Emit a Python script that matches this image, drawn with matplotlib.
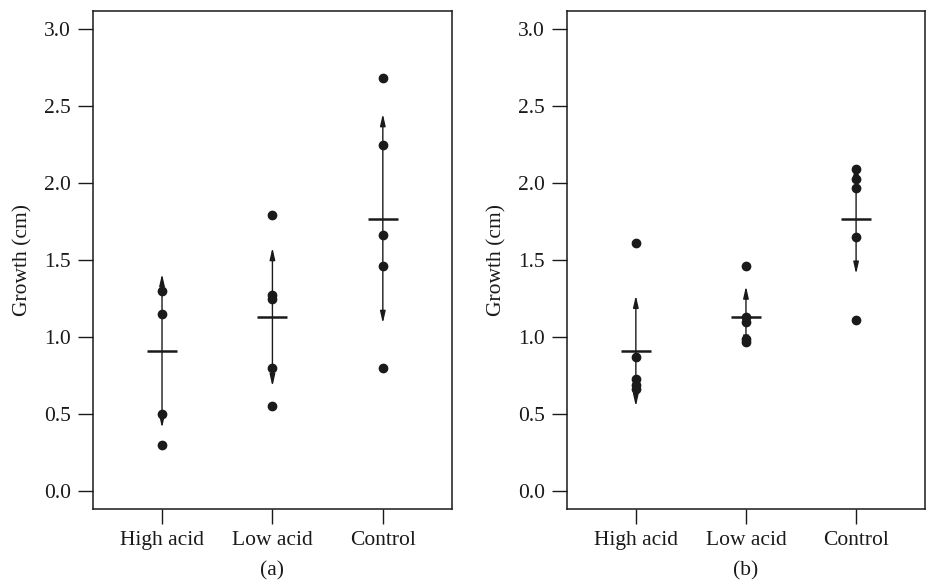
import numpy as np
import matplotlib
matplotlib.use("Agg")
import matplotlib.pyplot as plt

# Growth data
groups = ["High acid", "Low acid", "Control"]

points_a = [
    [1.30, 1.15, 0.50, 0.30],
    [1.79, 1.27, 1.25, 0.80, 0.55],
    [2.68, 2.25, 1.66, 1.46, 0.80],
]
points_b = [
    [1.61, 0.87, 0.73, 0.69, 0.66],
    [1.46, 1.13, 1.10, 0.99, 0.97],
    [2.09, 2.03, 1.97, 1.65, 1.11],
]

means = [0.91, 1.13, 1.77]
sd_a = [0.50, 0.45, 0.68]
sd_b = [0.36, 0.20, 0.36]

plt.rcParams['font.family'] = ['Liberation Serif', 'DejaVu Serif']
plt.rcParams['font.size'] = 15.5
ink = '#1a1a1a'

fig = plt.figure(figsize=(9.32, 5.85), dpi=100)
ax_a = fig.add_axes([0.0998, 0.1299, 0.385, 0.851])
ax_b = fig.add_axes([0.6084, 0.1299, 0.384, 0.851])


def draw_panel(ax, pts, sds, tag):
    x = np.arange(1, len(groups) + 1)
    for i, vals in enumerate(pts):
        # mean +/- sd as a double arrow
        ax.annotate('', xy=(x[i], means[i] + sds[i]), xytext=(x[i], means[i] - sds[i]),
                    arrowprops=dict(arrowstyle='<|-|>,head_length=0.7,head_width=0.16',
                                    color=ink, lw=1.0, shrinkA=0, shrinkB=0,
                                    mutation_scale=10))
        ax.plot(x[i], means[i], marker='_', ms=21, mew=1.8, color=ink)
        ax.plot([x[i]] * len(vals), vals, 'o', ms=6, color=ink, mec=ink)
    ax.set_xlim(0.375, 3.625)
    ax.set_ylim(-0.117, 3.117)
    ax.set_xticks(x)
    ax.set_xticklabels(groups)
    ax.set_yticks(np.arange(0, 3.01, 0.5))
    ax.set_yticklabels([f"{v:.1f}" for v in np.arange(0, 3.01, 0.5)])
    ax.tick_params(length=11, width=1, color=ink, labelcolor=ink, pad=5)
    for s in ax.spines.values():
        s.set_linewidth(1.1)
        s.set_color(ink)
    ax.set_ylabel("Growth (cm)", color=ink, labelpad=8)
    ax.set_xlabel(tag, color=ink, labelpad=8)


draw_panel(ax_a, points_a, sd_a, "(a)")
draw_panel(ax_b, points_b, sd_b, "(b)")

fig.savefig("out.png", dpi=100)
